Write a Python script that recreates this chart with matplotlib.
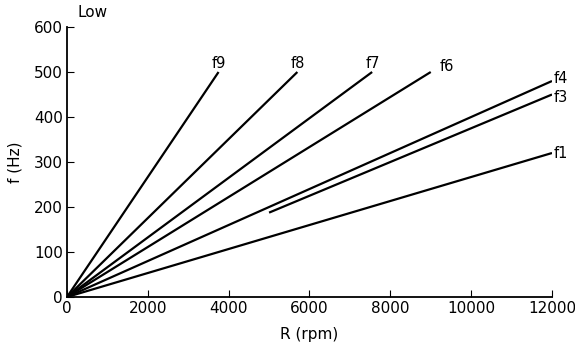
import matplotlib
matplotlib.use("Agg")
import matplotlib.pyplot as plt

# rpm / Hz end points of each order line
names = ["f9", "f8", "f7", "f6", "f4", "f3", "f1"]
r_start = [0, 0, 0, 0, 0, 5000, 0]
f_start = [0, 0, 0, 0, 0, 187.5, 0]
r_end = [3750, 5700, 7550, 9000, 12000, 12000, 12000]
f_end = [500, 500, 500, 500, 480, 450, 320]
# label anchor (data coords)
lab_r = [3750, 5700, 7580, 9400, 12050, 12050, 12050]
lab_f = [520, 520, 520, 512, 486, 444, 318]
lab_ha = ["center", "center", "center", "center", "left", "left", "left"]

xticks = [0, 2000, 4000, 6000, 8000, 10000, 12000]
yticks = [0, 100, 200, 300, 400, 500, 600]

plt.rcParams["font.family"] = ["DejaVu Sans"]
fig = plt.figure(figsize=(5.75, 3.54), dpi=100)
ax = fig.add_axes([0.1165, 0.161, 0.8435, 0.7627])

for n, x0, y0, x1, y1, lx, ly, ha in zip(names, r_start, f_start, r_end, f_end, lab_r, lab_f, lab_ha):
    ax.plot([x0, x1], [y0, y1], color="black", lw=1.6, solid_capstyle="butt")
    ax.text(lx, ly, n, ha=ha, va="center", fontsize=10.5)

ax.set_xlim(0, 12000)
ax.set_ylim(0, 600)
ax.set_xticks(xticks)
ax.set_yticks(yticks)
ax.tick_params(direction="in", length=5, labelsize=11, pad=3)
for s in ["top", "right"]:
    ax.spines[s].set_visible(False)
ax.spines["left"].set_linewidth(1.3)
ax.spines["bottom"].set_linewidth(1.3)
ax.set_xlabel("R (rpm)", fontsize=11, labelpad=8)
ax.set_ylabel("f (Hz)", fontsize=11, labelpad=8)
fig.text(0.135, 0.965, "Low", fontsize=11, va="center")

fig.savefig("out.png", dpi=100)
